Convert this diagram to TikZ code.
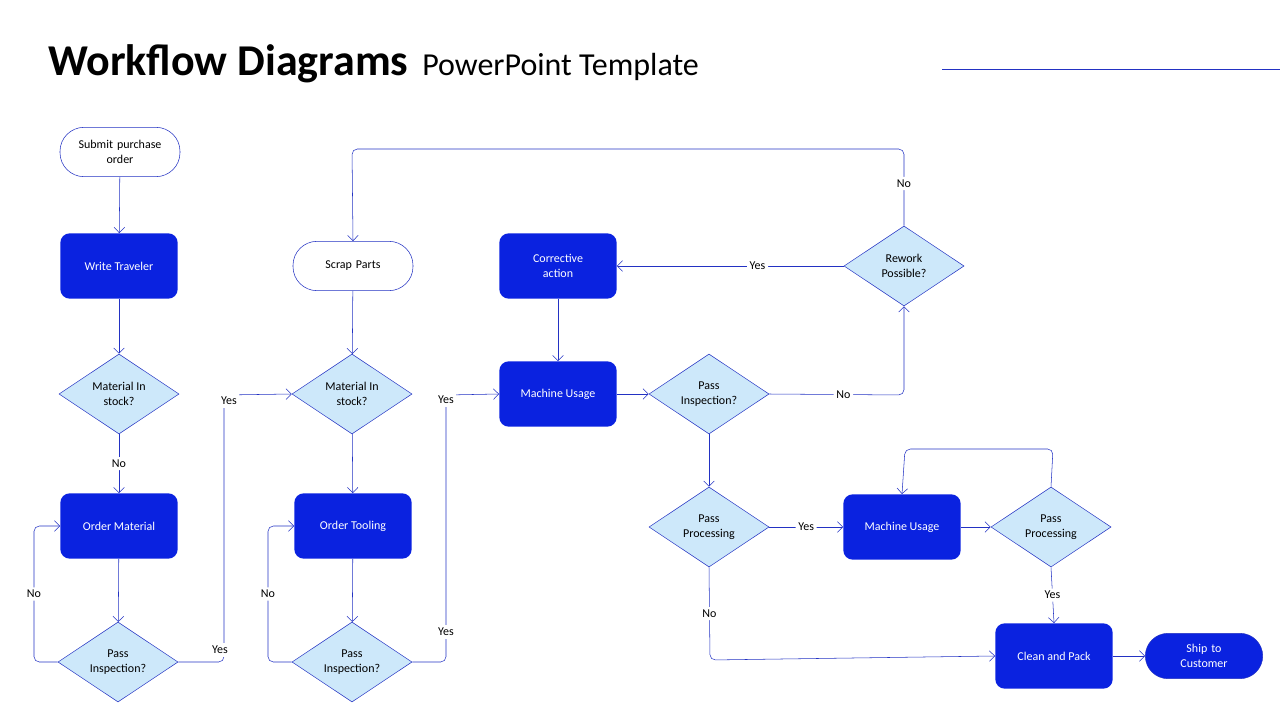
\documentclass[tikz,border=0pt]{standalone}
\usepackage{fontspec}
\setmainfont{Carlito}
\usetikzlibrary{shapes.geometric,arrows.meta}
\definecolor{boxblue}{RGB}{10,34,224}
\definecolor{lineblue}{RGB}{35,50,195}
\definecolor{decfill}{RGB}{205,232,250}

\begin{document}
\begin{tikzpicture}[x=0.75pt,y=-0.75pt,
    every node/.style={font=\fontsize{9}{11}\selectfont},
    process/.style={rectangle,rounded corners=7pt,fill=boxblue,text=white,minimum width=88pt,minimum height=49pt,align=center},
    term/.style={rectangle,rounded corners=18pt,draw=lineblue,fill=white,minimum width=90pt,minimum height=37pt,align=center,text width=80pt},
    termdark/.style={term,fill=boxblue,text=white,rounded corners=17pt,minimum width=88pt,minimum height=34pt},
    decision/.style={diamond,aspect=1.5,draw=lineblue,fill=decfill,inner sep=0pt,minimum width=90pt,minimum height=60pt,align=center},
    flow/.style={draw=lineblue,-{Straight Barb[length=4pt]},rounded corners=4pt},
    lbl/.style={fill=white,inner sep=2pt}]
\useasboundingbox (0,0) rectangle (1280,720);

% Title
\node[anchor=base west,inner sep=0pt,font=\fontsize{33}{36}\selectfont\bfseries] (title) at (48,76) {Workflow Diagrams};
\node[anchor=base west,inner sep=0pt,font=\fontsize{24}{28}\selectfont] (subtitle) at ([xshift=10pt]title.base east) {PowerPoint Template};
\coordinate (ruleA) at (942,69);
\coordinate (ruleB) at (1280,69);
\draw[lineblue,thin] (ruleA) -- (ruleB);

% Column 1
\node[term] (submit) at (120,152) {Submit purchase\\order};
\node[process] (write) at (119,266) {Write Traveler};
\node[decision] (mat1) at (119,394) {Material In\\stock?};
\node[process] (ordmat) at (119,526) {Order Material};
\node[decision] (pass1) at (118,662) {Pass\\Inspection?};

% Column 2
\node[term] (scrap) at (353,266) {Scrap Parts};
\node[decision] (mat2) at (352,394) {Material In\\stock?};
\node[process] (ordtool) at (353,526) {Order Tooling};
\node[decision] (pass2) at (352,662) {Pass\\Inspection?};

% Column 3 and right
\node[process] (corr) at (558,266) {Corrective\\action};
\node[process] (mach1) at (558,394) {Machine Usage};
\node[decision] (insp) at (709,394) {Pass\\Inspection?};
\node[decision] (rework) at (904,266) {Rework\\Possible?};
\node[decision] (proc1) at (709,527) {Pass\\Processing};
\node[process] (mach2) at (902,527) {Machine Usage};
\node[decision] (proc2) at (1051,527) {Pass\\Processing};
\node[process] (clean) at (1054,656) {Clean and Pack};
\node[termdark] (ship) at (1204,656) {Ship to\\Customer};

% Helper points
\coordinate (c1a) at (34,662);
\coordinate (c1b) at (34,526);
\coordinate (y1a) at (224,662);
\coordinate (y1b) at (224,395);
\coordinate (c2a) at (268,662);
\coordinate (c2b) at (268,526);
\coordinate (y2a) at (446,662);
\coordinate (y2b) at (446,395);
\coordinate (n1) at (904,395);
\coordinate (t1) at (904,149);
\coordinate (t2) at (352,149);
\coordinate (l1) at (1053,449);
\coordinate (l2) at (905,449);
\coordinate (b1) at (710,660);

% Connectors
\draw[flow] (submit) -- (write);
\draw[flow] (write) -- (mat1);
\draw[flow] (mat1) -- node[lbl] {No} (ordmat);
\draw[flow] (ordmat) -- (pass1);
\draw[flow] (pass1.west) -- (c1a) -- node[lbl] {No} (c1b) -- (ordmat.west);
\draw[flow] (pass1.east) -- (y1a) -- (y1b) -- (mat2.west);
\node[lbl] (ylA) at (220,650) {Yes};
\node[lbl] (ylB) at (229,401) {Yes};
\draw[flow] (scrap) -- (mat2);
\draw[flow] (mat2) -- (ordtool);
\draw[flow] (ordtool) -- (pass2);
\draw[flow] (pass2.west) -- (c2a) -- node[lbl] {No} (c2b) -- (ordtool.west);
\draw[flow] (pass2.east) -- (y2a) -- (y2b) -- (mach1.west);
\node[lbl] (ylC) at (446,632) {Yes};
\node[lbl] (ylD) at (446,400) {Yes};
\draw[flow] (corr) -- (mach1);
\draw[flow] (mach1) -- (insp);
\draw[flow] (insp.east) -- node[lbl,pos=0.55] {No} (n1) -- (rework.south);
\draw[flow] (rework.west) -- node[lbl,pos=0.38] {Yes} (corr.east);
\draw[flow] (rework.north) -- node[lbl,pos=0.55] {No} (t1) -- (t2) -- (scrap.north);
\draw[flow] (insp) -- (proc1);
\draw[flow] (proc1.east) -- node[lbl] {Yes} (mach2.west);
\draw[flow] (mach2) -- (proc2);
\draw[flow] (proc2.north) -- (l1) -- (l2) -- (mach2.north);
\draw[flow] (proc2.south) -- node[lbl] {Yes} (clean.north);
\draw[flow] (proc1.south) -- node[lbl,pos=0.5] {No} (b1) -- (clean.west);
\draw[flow] (clean) -- (ship);
\end{tikzpicture}
\end{document}
